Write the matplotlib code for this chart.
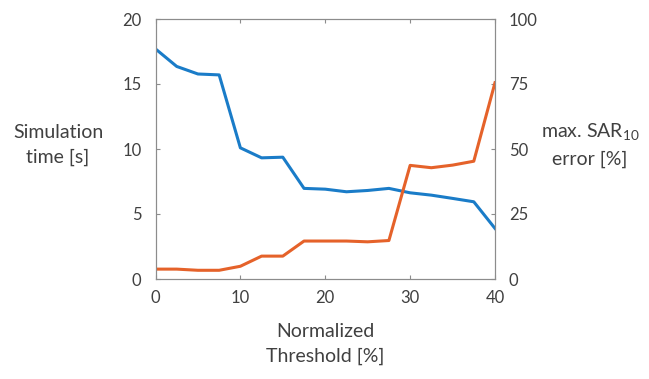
import matplotlib
matplotlib.use("Agg")
import matplotlib.pyplot as plt

threshold = [0, 2.5, 5, 7.5, 10, 12.5, 15, 17.5, 20, 22.5, 25, 27.5, 30, 32.5, 35, 37.5, 40]
sim_time = [17.7, 16.35, 15.77, 15.7, 10.09, 9.32, 9.37, 6.97, 6.91, 6.71, 6.81, 6.97, 6.63, 6.45, 6.2, 5.94, 3.89]
sar_error = [3.8, 3.8, 3.35, 3.35, 4.9, 8.8, 8.8, 14.6, 14.6, 14.6, 14.3, 14.8, 43.7, 42.8, 43.8, 45.3, 75.5]

x_ticks = [0, 10, 20, 30, 40]
left_ticks = [0, 5, 10, 15, 20]
right_ticks = [0, 25, 50, 75, 100]

plt.rcParams['font.family'] = ['Lato', 'DejaVu Sans']
plt.rcParams['mathtext.fontset'] = 'custom'
plt.rcParams['mathtext.rm'] = 'Lato'
text_color = '#404040'
spine_color = '#8c8c8c'

fig = plt.figure(figsize=(6.49, 3.79), dpi=100)
ax = fig.add_axes([155.5/649, 1 - 279/379, (495 - 155.5)/649, (279 - 19)/379])
ax2 = ax.twinx()

ax.plot(threshold, sim_time, color='#1a7cc8', lw=2.2, solid_joinstyle='round')
ax2.plot(threshold, sar_error, color='#e5622a', lw=2.2, solid_joinstyle='round')

ax.set_xlim(0, 40)
ax.set_ylim(0, 20)
ax2.set_ylim(0, 100)
ax.set_xticks(x_ticks)
ax.set_yticks(left_ticks)
ax2.set_yticks(right_ticks)

for a in (ax, ax2):
    for s in a.spines.values():
        s.set_color(spine_color)
        s.set_linewidth(0.8)
ax.tick_params(axis='x', direction='in', top=True, length=3, color=spine_color,
               labelsize=12, labelcolor=text_color, pad=8)
ax.tick_params(axis='y', direction='in', length=3, color=spine_color,
               labelsize=12, labelcolor=text_color, pad=10)
ax2.tick_params(axis='y', direction='in', length=3, color=spine_color,
                labelsize=12, labelcolor=text_color, pad=10)

fig.text(58/649, 1 - 145/379, 'Simulation\ntime [s]', ha='center', va='center',
         fontsize=14, color=text_color, linespacing=1.5)
fig.text(590/649, 1 - 145/379, 'max. SAR$_{\\mathrm{10}}$\nerror [%]', ha='center', va='center',
         fontsize=14, color=text_color, linespacing=1.5)
fig.text(325/649, 1 - 344/379, 'Normalized\nThreshold [%]', ha='center', va='center',
         fontsize=14, color=text_color, linespacing=1.5)

fig.savefig('out.png', dpi=100, facecolor='white')
